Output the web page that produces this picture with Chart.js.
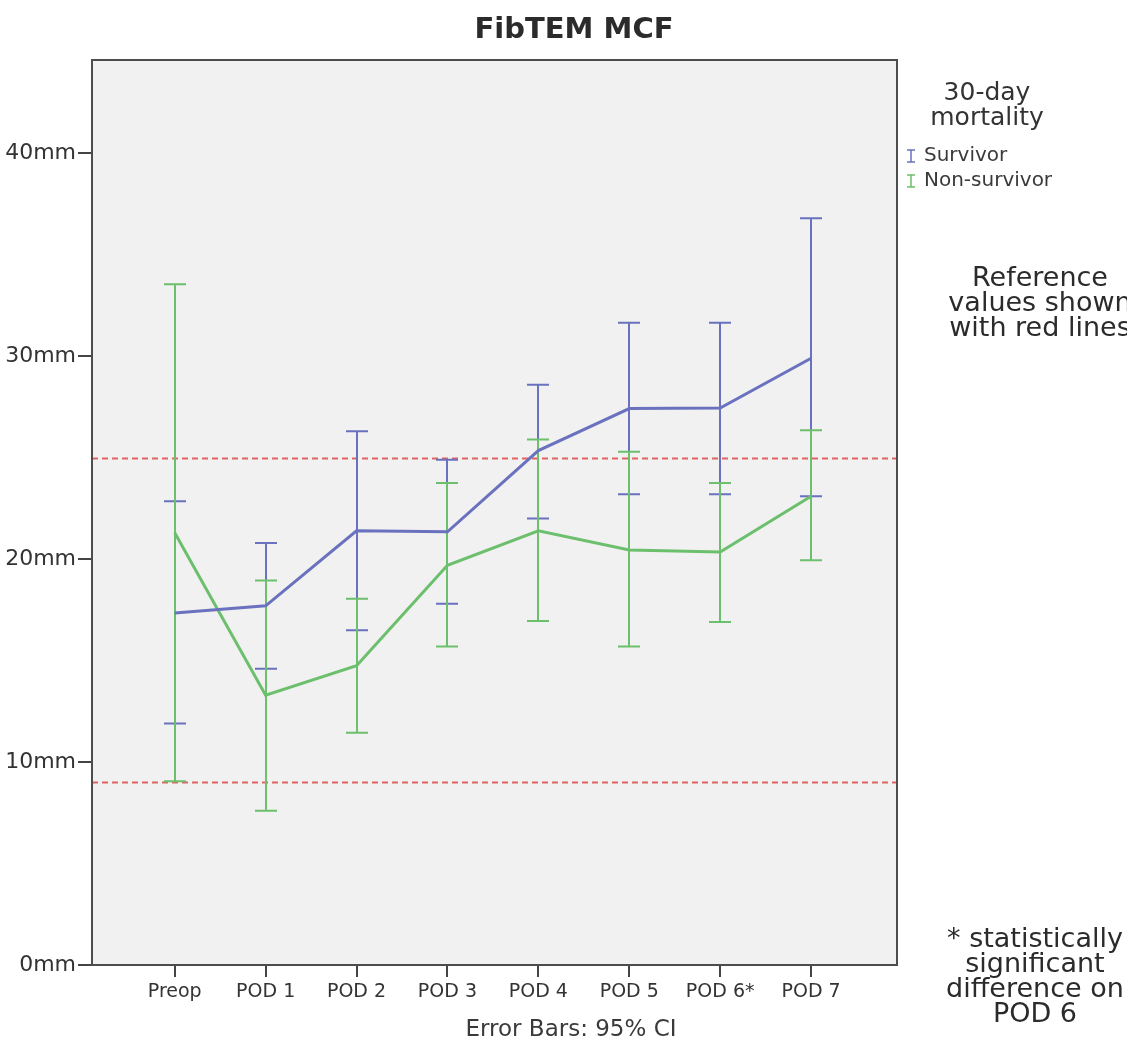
<!DOCTYPE html>
<html>
<head>
<meta charset="utf-8">
<script src="https://cdn.jsdelivr.net/npm/chart.js@4.4.0/dist/chart.umd.min.js"></script>
<style>
  body { margin: 0; background: #fff; overflow: hidden; }
  #wrap { width: 1127px; height: 1053px; position: relative; }
</style>
</head>
<body>
<div id="wrap"><canvas id="fibChart"></canvas></div>
<script>
// Data (mm)
const categories = ['Preop', 'POD 1', 'POD 2', 'POD 3', 'POD 4', 'POD 5', 'POD 6*', 'POD 7'];
const survivorMean = [17.35, 17.7, 21.4, 21.35, 25.35, 27.42, 27.45, 29.9];
const survivorLow  = [11.9, 14.6, 16.5, 17.8, 22.0, 23.2, 23.2, 23.1];
const survivorHigh = [22.85, 20.8, 26.3, 24.9, 28.6, 31.65, 31.65, 36.8];
const nonSurvivorMean = [21.3, 13.3, 14.75, 19.7, 21.4, 20.45, 20.35, 23.1];
const nonSurvivorLow  = [9.05, 7.6, 11.45, 15.7, 16.95, 15.7, 16.9, 19.95];
const nonSurvivorHigh = [33.55, 18.95, 18.05, 23.75, 25.9, 25.3, 23.75, 26.35];
const yTicks = [0, 10, 20, 30, 40];
const referenceLines = [9, 25];

const blue = '#6a72bf';
const green = '#6cbf6c';
const font = "'DejaVu Sans', sans-serif";

function points(arr) {
    return arr.map((v, i) => ({ x: i, y: v }));
}

// background, reference lines, error bars and side texts
const decor = {
    id: 'decor',
    beforeDraw(chart) {
        const { ctx, chartArea: a } = chart;
        ctx.save();
        ctx.fillStyle = '#f1f1f1';
        ctx.fillRect(a.left, a.top, a.right - a.left, a.bottom - a.top);
        ctx.restore();
    },
    beforeDatasetsDraw(chart) {
        const { ctx, chartArea: a, scales: { x, y } } = chart;
        ctx.save();
        // red reference lines
        ctx.strokeStyle = '#e06262';
        ctx.lineWidth = 2;
        ctx.setLineDash([6, 4]);
        referenceLines.forEach(v => {
            const py = Math.round(y.getPixelForValue(v)) + 0.5;
            ctx.beginPath();
            ctx.moveTo(a.left, py);
            ctx.lineTo(a.right, py);
            ctx.stroke();
        });
        ctx.setLineDash([]);
        // error bars
        const bars = [
            [survivorLow, survivorHigh, blue],
            [nonSurvivorLow, nonSurvivorHigh, green]
        ];
        bars.forEach(([lo, hi, col]) => {
            ctx.strokeStyle = col;
            ctx.lineWidth = 2;
            lo.forEach((l, i) => {
                const px = Math.round(x.getPixelForValue(i));
                const y1 = y.getPixelForValue(l);
                const y2 = y.getPixelForValue(hi[i]);
                ctx.beginPath();
                ctx.moveTo(px, y1);
                ctx.lineTo(px, y2);
                ctx.moveTo(px - 11, y1);
                ctx.lineTo(px + 11, y1);
                ctx.moveTo(px - 11, y2);
                ctx.lineTo(px + 11, y2);
                ctx.stroke();
            });
        });
        ctx.restore();
    },
    afterDraw(chart) {
        const { ctx, chartArea: a } = chart;
        ctx.save();
        // frame
        ctx.strokeStyle = '#4d4d4d';
        ctx.lineWidth = 2;
        ctx.strokeRect(a.left, a.top, a.right - a.left, a.bottom - a.top);

        ctx.fillStyle = '#2b2b2b';
        ctx.textAlign = 'center';
        ctx.textBaseline = 'middle';
        ctx.font = 'bold 29px ' + font;
        ctx.fillText('FibTEM MCF', 574, 30);

        ctx.fillStyle = '#3a3a3a';
        ctx.font = '23px ' + font;
        ctx.fillText('Error Bars: 95% CI', 571, 1030);

        // legend
        ctx.fillStyle = '#333';
        ctx.font = '25px ' + font;
        ctx.fillText('30-day', 987, 93);
        ctx.fillText('mortality', 987, 118);
        ctx.textAlign = 'left';
        ctx.font = '20px ' + font;
        [['Survivor', blue, 156], ['Non-survivor', green, 181]].forEach(([t, c, py]) => {
            ctx.strokeStyle = c;
            ctx.lineWidth = 1.5;
            ctx.beginPath();
            ctx.moveTo(911, py - 6); ctx.lineTo(911, py + 6);
            ctx.moveTo(907, py - 6); ctx.lineTo(915, py - 6);
            ctx.moveTo(907, py + 6); ctx.lineTo(915, py + 6);
            ctx.stroke();
            ctx.fillStyle = '#3a3a3a';
            ctx.fillText(t, 924, py);
        });

        // notes
        ctx.textAlign = 'center';
        ctx.fillStyle = '#2b2b2b';
        ctx.font = '27px ' + font;
        ['Reference', 'values shown', 'with red lines'].forEach((t, i) => {
            ctx.fillText(t, 1040, 279 + i * 25);
        });
        ['* statistically', 'significant', 'difference on', 'POD 6'].forEach((t, i) => {
            ctx.fillText(t, 1035, 940 + i * 25);
        });
        ctx.restore();
    }
};

const ctx = document.getElementById('fibChart').getContext('2d');
new Chart(ctx, {
    type: 'line',
    data: {
        datasets: [
            {
                label: 'Survivor',
                data: points(survivorMean),
                borderColor: blue,
                borderWidth: 3,
                pointRadius: 0,
                tension: 0
            },
            {
                label: 'Non-survivor',
                data: points(nonSurvivorMean),
                borderColor: green,
                borderWidth: 3,
                pointRadius: 0,
                tension: 0
            }
        ]
    },
    options: {
        responsive: true,
        maintainAspectRatio: false,
        animation: false,
        layout: { padding: { top: 60, right: 230, left: 0, bottom: 0 } },
        plugins: {
            legend: { display: false },
            title: { display: false },
            tooltip: { enabled: false }
        },
        scales: {
            x: {
                type: 'linear',
                min: -0.91,
                max: 7.945,
                afterBuildTicks: s => { s.ticks = categories.map((c, i) => ({ value: i })); },
                afterFit: s => { s.height = 88; },
                border: { display: false },
                grid: { drawOnChartArea: false, drawTicks: true, tickLength: 12, tickColor: '#444', lineWidth: 2 },
                ticks: {
                    autoSkip: false,
                    maxRotation: 0,
                    padding: 4,
                    color: '#333',
                    font: { family: font, size: 19 },
                    callback: v => categories[v]
                }
            },
            y: {
                min: 0,
                max: 44.6,
                afterBuildTicks: s => { s.ticks = yTicks.map(v => ({ value: v })); },
                afterFit: s => { s.width = 92; },
                border: { display: false },
                grid: { drawOnChartArea: false, drawTicks: true, tickLength: 14, tickColor: '#444', lineWidth: 2 },
                ticks: {
                    padding: 2,
                    color: '#333',
                    font: { family: font, size: 22 },
                    callback: v => v + 'mm'
                }
            }
        }
    },
    plugins: [decor]
});
</script>
</body>
</html>
